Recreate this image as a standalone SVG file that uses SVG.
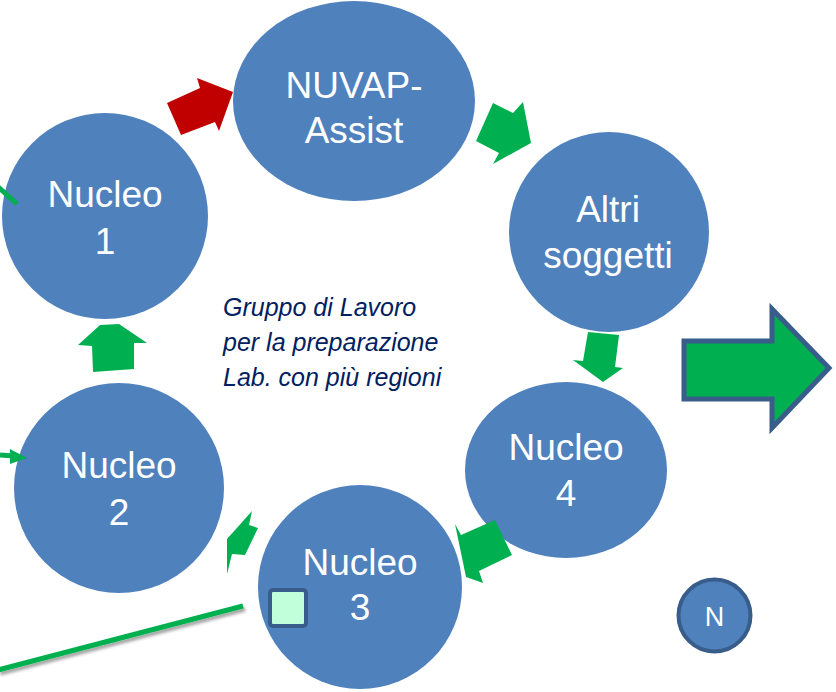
<svg xmlns="http://www.w3.org/2000/svg" width="836" height="692" viewBox="0 0 836 692">
<style>
.node{fill:#4F81BD}
.lbl{font-family:"Liberation Sans",Arial,sans-serif;font-size:37px;fill:#FFFFFF;text-anchor:middle}
.ga{fill:#00B050}
.note{font-family:"Liberation Sans",Arial,sans-serif;font-size:25px;font-style:italic;fill:#002060}
.gl{stroke:#00B050;stroke-width:5;fill:none;stroke-linecap:butt}
</style>
<defs>
<filter id="sh" x="-10%" y="-50%" width="120%" height="200%">
<feDropShadow dx="2" dy="3" stdDeviation="1.5" flood-color="#000" flood-opacity="0.35"/>
</filter>
</defs>
<rect width="836" height="692" fill="#FFFFFF"/>

<g id="nuvap">
<ellipse class="node" cx="354" cy="101" rx="121" ry="100"/>
<text class="lbl" x="354" y="98">NUVAP-</text>
<text class="lbl" x="354" y="143">Assist</text>
</g>
<g id="nucleo1">
<circle class="node" cx="105" cy="216" r="103"/>
<text class="lbl" x="105" y="207">Nucleo</text>
<text class="lbl" x="105" y="254">1</text>
</g>
<g id="altri">
<circle class="node" cx="609" cy="232" r="100"/>
<text class="lbl" x="608" y="222">Altri</text>
<text class="lbl" x="608" y="268">soggetti</text>
</g>
<g id="nucleo4">
<ellipse class="node" cx="566" cy="470" rx="101" ry="88"/>
<text class="lbl" x="566" y="460">Nucleo</text>
<text class="lbl" x="566" y="506">4</text>
</g>
<g id="nucleo2">
<circle class="node" cx="119" cy="488" r="105"/>
<text class="lbl" x="119" y="478">Nucleo</text>
<text class="lbl" x="119" y="525">2</text>
</g>
<g id="nucleo3">
<circle class="node" cx="360" cy="587" r="102"/>
<text class="lbl" x="360" y="575">Nucleo</text>
<text class="lbl" x="360" y="620">3</text>
<rect x="270" y="590" width="36" height="36" rx="3" fill="#C0FFDA" stroke="#385D8A" stroke-width="4"/>
</g>

<g id="connectors">
<polygon points="167,103 200,88 197,78 233,92 219,131 215,122 181,135" fill="#C00000"/>
<polygon class="ga" points="493,103 513,113 523,102 531,143 493,164 499,153 476,141"/>
<polygon class="ga" points="588,332 619,335 615,367 623,368 603,382 573,360 583,361"/>
<polygon class="ga" points="495,520 512,555 479,571 483,583 466,577 455,524 461,535"/>
<polygon class="ga" points="252,511 249,525 258,528 245,555 232,554 227,574 227,539"/>
<polygon class="ga" points="100,325 119,324 147,343 134,343 134,369 93,372 92,346 78,345"/>
<line class="gl" x1="-4" y1="185" x2="17" y2="204"/>
<line class="gl" x1="0" y1="455" x2="14" y2="456"/>
<polygon class="ga" points="10,449 27,458 10,464"/>
<line class="gl" x1="-2" y1="670" x2="243" y2="606" filter="url(#sh)"/>
</g>

<g id="note">
<text class="note" x="223" y="316">Gruppo di Lavoro</text>
<text class="note" x="223" y="351">per la preparazione</text>
<text class="note" x="223" y="386">Lab. con più regioni</text>
</g>

<g id="bigarrow">
<polygon points="684,341 772,341 772,309 829,368 772,428 772,399 684,399" fill="#00B050" stroke="#385D8A" stroke-width="5" stroke-linejoin="miter"/>
</g>

<g id="n">
<circle cx="714.5" cy="615.5" r="36" fill="#4F81BD" stroke="#385D8A" stroke-width="4"/>
<text x="714.5" y="626" font-family="Liberation Sans, Arial, sans-serif" font-size="27" fill="#FFFFFF" text-anchor="middle">N</text>
</g>
</svg>
